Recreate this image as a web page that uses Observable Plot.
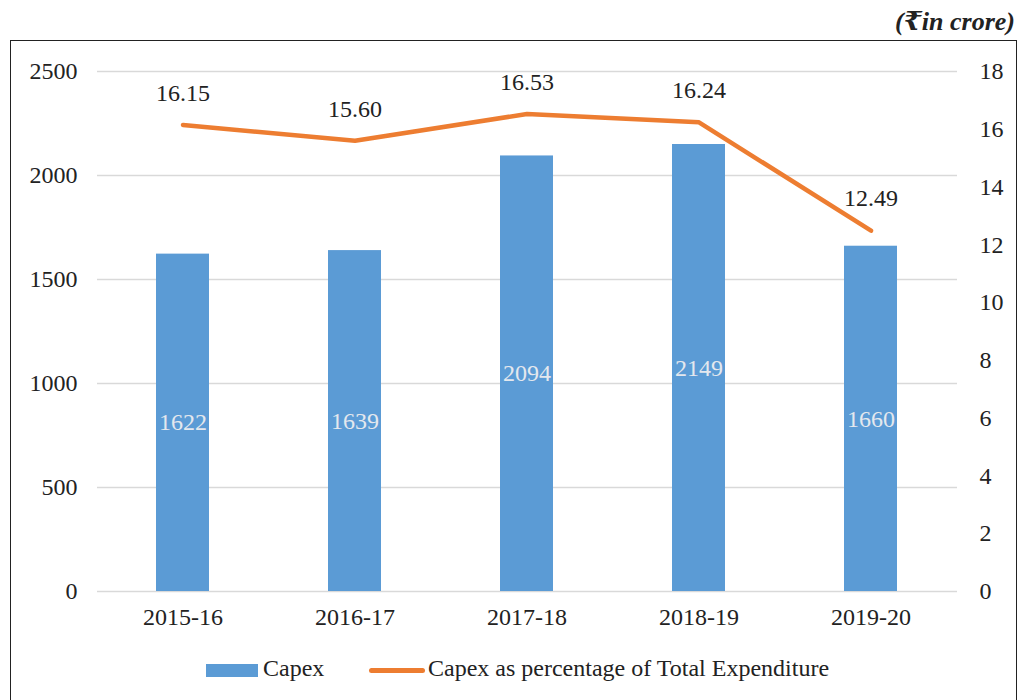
<!DOCTYPE html>
<html>
<head>
<meta charset="utf-8">
<script src="https://cdn.jsdelivr.net/npm/d3@7"></script>
<script src="https://cdn.jsdelivr.net/npm/@observablehq/plot@0.6"></script>
<style>
  body { margin: 0; background: #fff; font-family: 'Liberation Serif', 'DejaVu Serif', serif; }
  #wrap { position: relative; width: 1019px; height: 700px; overflow: hidden; }
  #title { position: absolute; right: 4px; top: 6px; font-size: 26px; font-weight: bold; font-style: italic; color: #222; }
  #frame { position: absolute; left: 10px; top: 40px; width: 1007px; height: 700px; border: 1.6px solid #222; box-sizing: border-box; }
  #chart { position: absolute; left: 0; top: 40px; }
  #chart svg, #chart text { font-family: 'Liberation Serif', 'DejaVu Serif', serif !important; }
  #legend { position: absolute; top: 654px; left: 0; width: 1019px; height: 28px; line-height: 28px; font-size: 24px; color: #222; }
  .sw { position: absolute; }
  .lt { position: absolute; top: 0; }
</style>
</head>
<body>
<div id="wrap">
  <div id="title">(₹in crore)</div>
  <div id="frame"></div>
  <div id="chart"></div>
  <div id="legend">
    <div class="sw" style="left:206px; top:10px; width:52px; height:13px; background:#5B9BD5;"></div>
    <div class="lt" style="left:263px;">Capex</div>
    <div class="sw" style="left:369px; top:13.5px; width:56px; height:5px; border-radius:3px; background:#ED7D31;"></div>
    <div class="lt" style="left:428px;">Capex as percentage of Total Expenditure</div>
  </div>
</div>
<script>
const years = ["2015-16", "2016-17", "2017-18", "2018-19", "2019-20"];
const capex = [1622, 1639, 2094, 2149, 1660];
const pct = [16.15, 15.60, 16.53, 16.24, 12.49];
const leftTicks = [0, 500, 1000, 1500, 2000, 2500];
const rightTicks = [0, 2, 4, 6, 8, 10, 12, 14, 16, 18];
const leftMax = 2500, rightMax = 18;
const k = leftMax / rightMax;

const data = years.map((y, i) => ({year: y, capex: capex[i], pct: pct[i]}));

const chart = Plot.plot({
  width: 1019,
  height: 600,
  marginLeft: 97,
  marginRight: 62,
  marginTop: 31,
  marginBottom: 49,
  style: {fontFamily: "'Liberation Serif', 'DejaVu Serif', serif", fontSize: "24px", color: "#222", background: "transparent"},
  x: {domain: years, paddingInner: 0.69, paddingOuter: 0.345, label: null},
  y: {domain: [0, leftMax], label: null},
  marks: [
    Plot.gridY(leftTicks, {stroke: "#d9d9d9", strokeOpacity: 1, strokeWidth: 1.6}),
    Plot.axisY(leftTicks, {anchor: "left", tickSize: 0, tickPadding: 20, fontSize: 24, label: null, tickFormat: d => String(d)}),
    Plot.axisY(rightTicks.map(v => v * k), {anchor: "right", tickSize: 0, tickPadding: 22, fontSize: 24, label: null, tickFormat: d => String(Math.round(d / k))}),
    Plot.axisX({tickSize: 0, tickPadding: 16, fontSize: 24, label: null}),
    Plot.barY(data, {x: "year", y: "capex", fill: "#5B9BD5"}),
    Plot.text(data, {x: "year", y: d => d.capex / 2, text: d => String(d.capex), fill: "#e4e8ee", fontSize: 24}),
    Plot.line(data, {x: "year", y: d => d.pct * k, stroke: "#ED7D31", strokeWidth: 4.5, strokeLinecap: "round", strokeLinejoin: "round"}),
    Plot.text(data, {x: "year", y: d => d.pct * k, dy: -32, text: d => d.pct.toFixed(2), fill: "#222", fontSize: 24})
  ]
});
document.getElementById("chart").appendChild(chart);
</script>
</body>
</html>
